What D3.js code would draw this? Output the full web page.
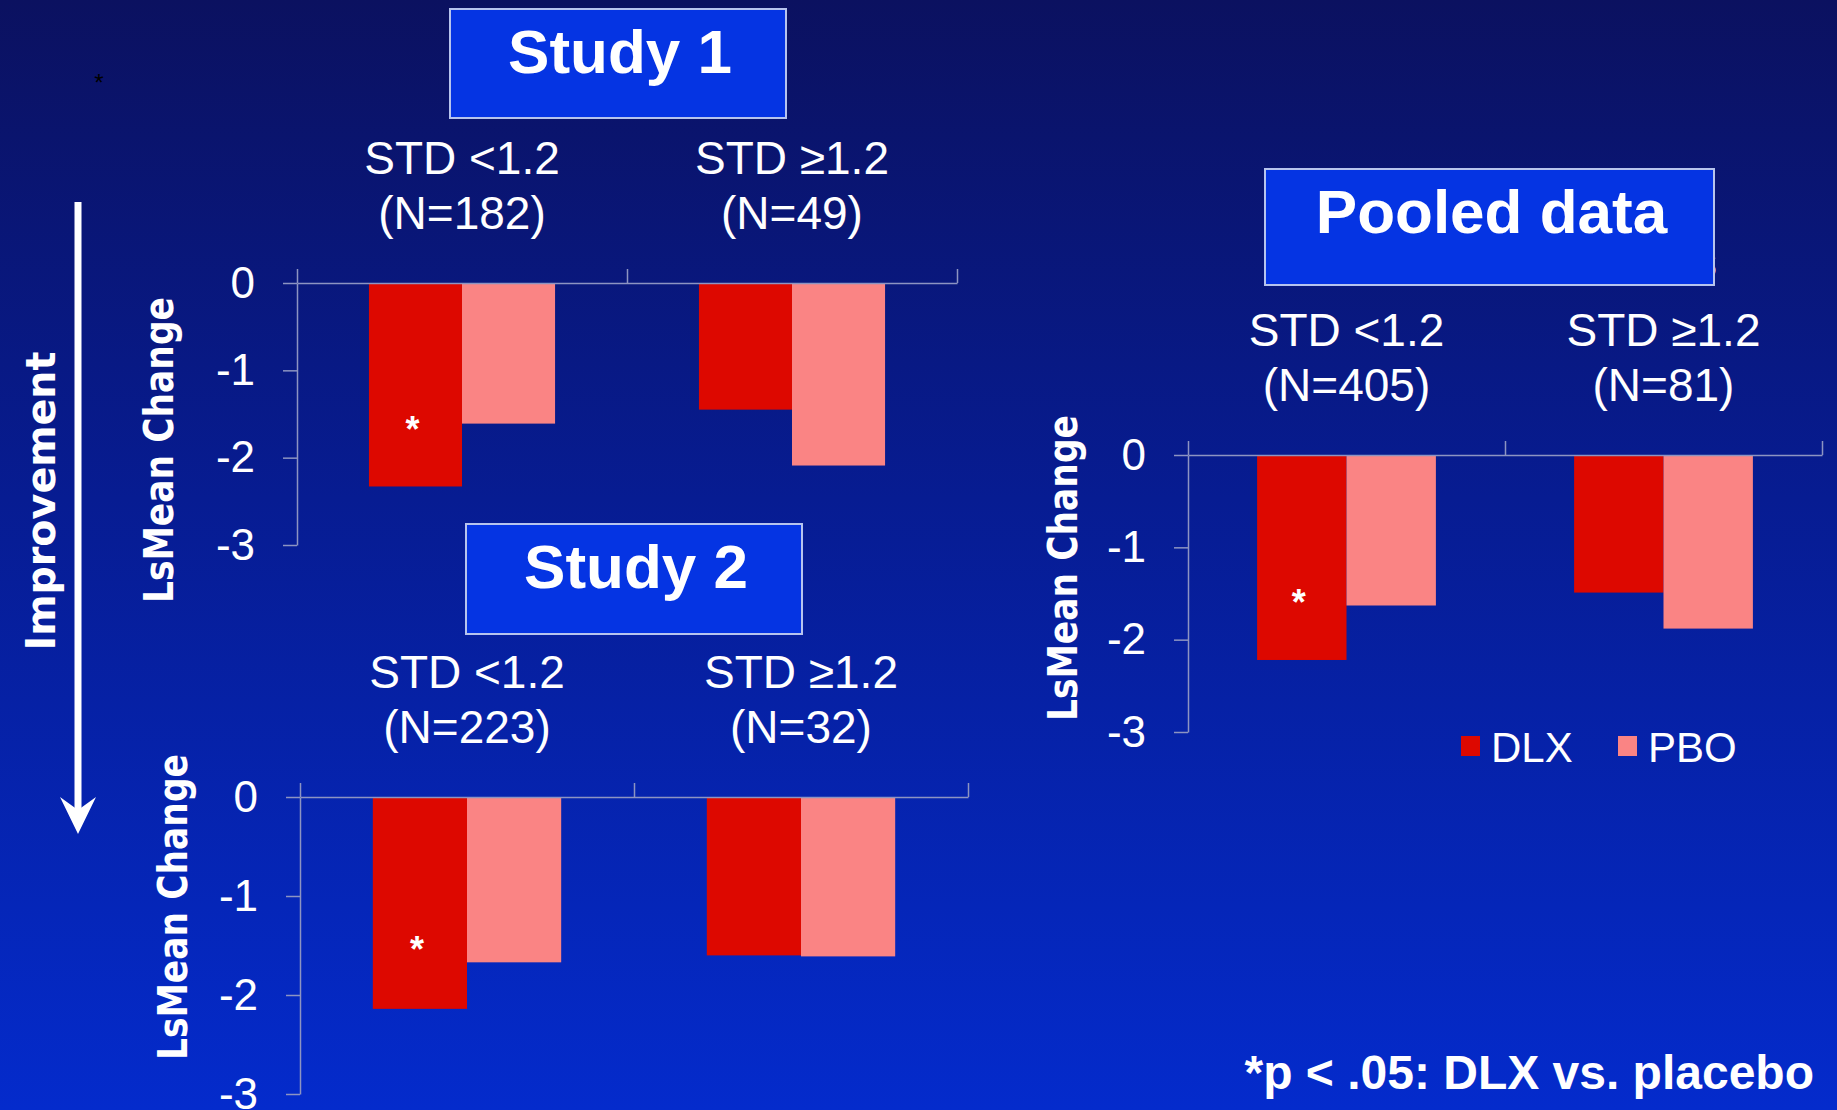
<!DOCTYPE html>
<html>
<head>
<meta charset="utf-8">
<script src="https://cdn.jsdelivr.net/npm/d3@7"></script>
<style>
  html, body { margin: 0; padding: 0; overflow: hidden; background: #0b1263; }
  svg { display: block; }
</style>
</head>
<body>
<svg id="chart" width="1837" height="1110"></svg>
<script>
// ---- data ----
const categories = ["STD <1.2", "STD \u22651.2"];
const seriesNames = ["DLX", "PBO"];

const study1N = ["(N=182)", "(N=49)"];
const study1DLX = [-2.33, -1.45];
const study1PBO = [-1.61, -2.09];

const study2N = ["(N=223)", "(N=32)"];
const study2DLX = [-2.14, -1.60];
const study2PBO = [-1.67, -1.61];

const pooledN = ["(N=405)", "(N=81)"];
const pooledDLX = [-2.22, -1.49];
const pooledPBO = [-1.63, -1.88];

// DLX vs placebo significant at p < .05, per category
const significant = [true, false];

const yTicks = [0, -1, -2, -3];
const yTickLabels = ["0", "-1", "-2", "-3"];

const colors = { DLX: "#dd0800", PBO: "#fa8484" };

// ---- layout ----
const W = 1837, H = 1110;
const sans = "'Liberation Sans', Arial, sans-serif";
const wide = "'DejaVu Sans', Verdana, sans-serif";
const axisColor = "#8d94c2";

const svg = d3.select("#chart");

// background: dark navy at the top fading into bright blue
const defs = svg.append("defs");
const bg = defs.append("linearGradient").attr("id", "bg")
  .attr("x1", 0).attr("y1", 0).attr("x2", 0).attr("y2", 1);
bg.append("stop").attr("offset", 0).attr("stop-color", "#0b1160");
bg.append("stop").attr("offset", 0.45).attr("stop-color", "#071c92");
bg.append("stop").attr("offset", 1).attr("stop-color", "#042bcc");
svg.append("rect").attr("width", W).attr("height", H).attr("fill", "url(#bg)");

// stray mark in the upper left
svg.append("text").attr("x", 99).attr("y", 91)
  .attr("text-anchor", "middle").attr("font-family", sans)
  .attr("font-size", 24).attr("fill", "#000").text("*");

// "Improvement" direction arrow
svg.append("line").attr("x1", 78).attr("x2", 78).attr("y1", 202).attr("y2", 812)
  .attr("stroke", "#fff").attr("stroke-width", 7);
svg.append("path")
  .attr("d", "M60,797 L78,810 L96,797 L78,834 Z")
  .attr("fill", "#fff");
svg.append("text")
  .attr("transform", "translate(55,501) rotate(-90)")
  .attr("text-anchor", "middle").attr("font-family", wide)
  .attr("font-weight", "bold").attr("font-size", 40)
  .attr("textLength", 299).attr("lengthAdjust", "spacingAndGlyphs")
  .attr("fill", "#fff").text("Improvement");

const panels = [
  { title: "Study 1", n: study1N, dlx: study1DLX, pbo: study1PBO,
    left: 297, right: 957, zero: 283, floor: 545,
    box: [450, 9, 336, 109], ylabel: [173, 450] },
  { title: "Study 2", n: study2N, dlx: study2DLX, pbo: study2PBO,
    left: 300, right: 968, zero: 797, floor: 1094,
    box: [466, 524, 336, 110], ylabel: [187, 907] },
  { title: "Pooled data", n: pooledN, dlx: pooledDLX, pbo: pooledPBO,
    left: 1188, right: 1822, zero: 455, floor: 732,
    box: [1265, 169, 449, 116], ylabel: [1077, 568], legend: true }
];

// partly hidden glyph peeking out from behind the pooled-data box
svg.append("text").attr("x", 1695).attr("y", 277)
  .attr("font-family", sans).attr("font-size", 44)
  .attr("fill", "#fff").text("s");

panels.forEach(p => {
  const g = svg.append("g");

  // title box
  const [bx, by, bw, bh] = p.box;
  g.append("rect").attr("x", bx).attr("y", by).attr("width", bw).attr("height", bh)
    .attr("fill", "#0534e3").attr("stroke", "#b7c4ee").attr("stroke-width", 2);
  g.append("text").attr("x", bx + bw / 2 + 2).attr("y", by + 64)
    .attr("text-anchor", "middle").attr("font-family", sans)
    .attr("font-weight", "bold").attr("font-size", 62)
    .attr("fill", "#fff").text(p.title);

  const x = d3.scaleBand().domain(categories).range([p.left, p.right]).padding(0);
  const xs = d3.scaleBand().domain(seriesNames)
    .range([x.bandwidth() * 0.218, x.bandwidth() * 0.782]).padding(0);
  const y = d3.scaleLinear().domain([0, -3]).range([p.zero, p.floor]);

  // category headings
  categories.forEach((c, i) => {
    const cx = x(c) + x.bandwidth() / 2;
    const t = g.append("text").attr("text-anchor", "middle")
      .attr("font-family", sans).attr("font-size", 46).attr("fill", "#fff");
    t.append("tspan").attr("x", cx).attr("y", p.zero - 109).text(c);
    t.append("tspan").attr("x", cx).attr("y", p.zero - 54).text(p.n[i]);
  });

  // bars
  const rows = categories.map((c, i) => ({ c, i, DLX: p.dlx[i], PBO: p.pbo[i] }));
  const grp = g.selectAll("g.cat").data(rows).join("g")
    .attr("transform", d => `translate(${x(d.c)},0)`);
  grp.selectAll("rect").data(d => seriesNames.map(s => ({ s, v: d[s] }))).join("rect")
    .attr("x", d => xs(d.s)).attr("width", xs.bandwidth())
    .attr("y", y(0)).attr("height", d => y(d.v) - y(0))
    .attr("fill", d => colors[d.s]);
  grp.filter(d => significant[d.i]).append("text")
    .attr("x", xs("DLX") + xs.bandwidth() / 2 - 3)
    .attr("y", d => y(d.DLX * 0.7) + 17)
    .attr("text-anchor", "middle").attr("font-family", sans)
    .attr("font-weight", "bold").attr("font-size", 36)
    .attr("fill", "#fff").text("*");

  // value axis
  const ya = g.append("g").attr("transform", `translate(${p.left},0)`)
    .call(d3.axisLeft(y).tickValues(yTicks)
      .tickFormat((d, i) => yTickLabels[i]).tickSize(14).tickSizeOuter(0).tickPadding(28));
  ya.select(".domain").attr("stroke", axisColor).attr("stroke-width", 1.5);
  ya.selectAll(".tick line").attr("stroke", axisColor).attr("stroke-width", 1.5);
  ya.selectAll(".tick text").attr("font-family", sans).attr("font-size", 44)
    .attr("fill", "#fff");

  // category axis along zero, with tick marks at band boundaries
  const xb = d3.scaleLinear().domain([0, categories.length]).range([p.left, p.right]);
  const xa = g.append("g").attr("transform", `translate(0,${y(0)})`)
    .call(d3.axisTop(xb).tickValues(d3.range(categories.length + 1))
      .tickFormat("").tickSize(14).tickSizeOuter(0));
  xa.select(".domain").attr("stroke", axisColor).attr("stroke-width", 1.5);
  xa.selectAll(".tick line").attr("stroke", axisColor).attr("stroke-width", 1.5);

  // axis title
  g.append("text")
    .attr("transform", `translate(${p.ylabel[0]},${p.ylabel[1]}) rotate(-90)`)
    .attr("text-anchor", "middle").attr("font-family", wide)
    .attr("font-weight", "bold").attr("font-size", 41)
    .attr("textLength", 306).attr("lengthAdjust", "spacingAndGlyphs")
    .attr("fill", "#fff").text("LsMean Change");

  // legend
  if (p.legend) {
    const lx = [1461, 1618];
    seriesNames.forEach((s, i) => {
      g.append("rect").attr("x", lx[i]).attr("y", 736).attr("width", 19).attr("height", 20)
        .attr("fill", colors[s]);
      g.append("text").attr("x", lx[i] + 30).attr("y", 762)
        .attr("font-family", sans).attr("font-size", 42)
        .attr("fill", "#fff").text(s);
    });
  }
});

// footnote
svg.append("text").attr("x", 1814).attr("y", 1089)
  .attr("text-anchor", "end").attr("font-family", sans)
  .attr("font-weight", "bold").attr("font-size", 48)
  .attr("fill", "#fff").text("*p < .05: DLX vs. placebo");
</script>
</body>
</html>
